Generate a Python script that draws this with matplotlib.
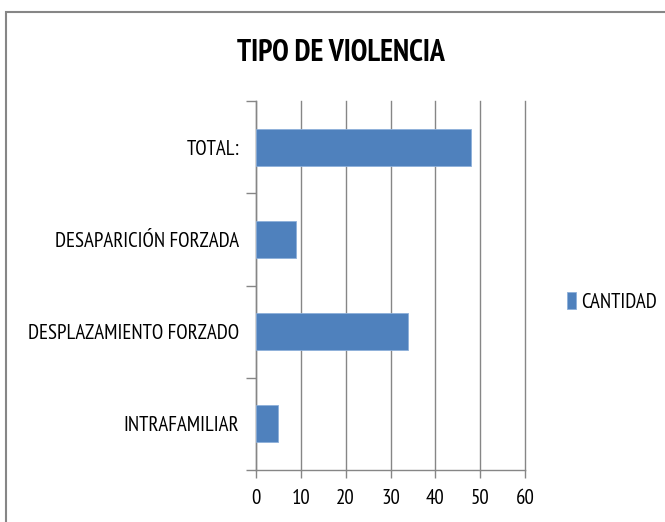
import matplotlib.pyplot as plt
from matplotlib.patches import Rectangle

plt.rcParams['font.family'] = ['PT Sans Narrow', 'DejaVu Sans']

categories = ['INTRAFAMILIAR', 'DESPLAZAMIENTO FORZADO', 'DESAPARICIÓN FORZADA', 'TOTAL:']
cantidad = [5, 34, 9, 48]
series_name = 'CANTIDAD'
title = 'TIPO DE VIOLENCIA'

fig = plt.figure(figsize=(6.65, 5.22), dpi=100)
ax = fig.add_axes([256 / 665, 1 - 470 / 522, (525 - 256) / 665, (470 - 101) / 522])

bar_color = '#4f81bd'
pos = list(range(len(categories)))
ax.barh(pos, cantidad, height=0.4, color=bar_color, edgecolor='#8eb0da', linewidth=0.6,
        label=series_name, zorder=3)

ax.set_xlim(0, 60)
ax.set_ylim(-0.5, len(categories) - 0.5)
ax.set_xticks(range(0, 61, 10))
ax.set_yticks(pos)
ax.set_yticklabels(categories)
ax.set_yticks([p - 0.5 for p in pos] + [len(categories) - 0.5], minor=True)
ax.tick_params(axis='y', which='major', length=0, pad=12, labelsize=15)
ax.tick_params(axis='y', which='minor', length=7, color='#868686', width=1)
ax.tick_params(axis='x', length=6, color='#868686', width=1, labelsize=15, pad=8)

ax.grid(axis='x', color='#868686', linewidth=1, zorder=0)
for gl in ax.get_xgridlines():
    gl.set_clip_on(False)
for s in ['top', 'right']:
    ax.spines[s].set_visible(False)
for s in ['left', 'bottom']:
    ax.spines[s].set_color('#868686')
    ax.spines[s].set_linewidth(1)

fig.text(341 / 665, 1 - 53 / 522, title, ha='center', va='center',
         fontsize=21.5, fontweight='bold')

ax.legend(loc='center left', bbox_to_anchor=(548 / 665, 1 - 302 / 522),
          bbox_transform=fig.transFigure, frameon=False, fontsize=15,
          handlelength=0.45, handleheight=0.9, handletextpad=0.25)

fig.patches.append(Rectangle((6 / 665, -0.02), 1.0, 1 - 12 / 522 + 0.02,
                             transform=fig.transFigure, fill=False,
                             edgecolor='#868686', linewidth=1.5))

fig.savefig('out.png', dpi=100)
